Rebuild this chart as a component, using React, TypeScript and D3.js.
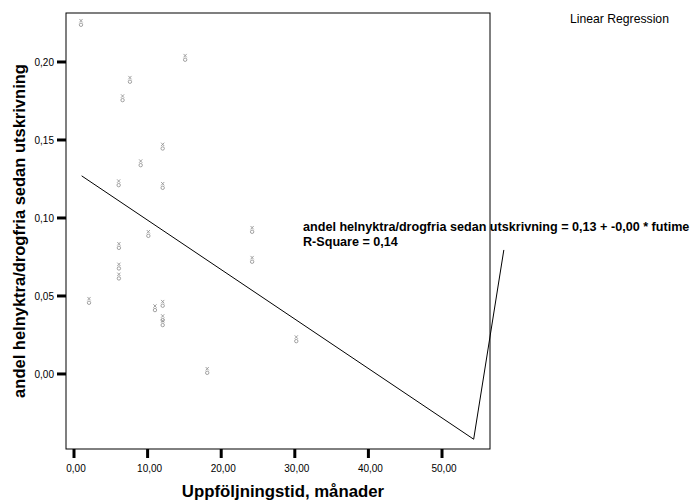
import React, { useEffect, useRef } from 'react';
import * as d3 from 'd3';

// follow-up time (months) and share sober/drug free for each patient
const followUp = [0.95, 15.1, 7.6, 6.6, 12.05, 9.06, 6.07, 12.05, 10.1, 6.1, 6.1, 6.1, 2.04, 11.0, 12.05, 12.05, 12.05, 18.1, 24.2, 30.2, 24.2];
const share = [0.225, 0.2026, 0.1885, 0.1767, 0.1457, 0.135, 0.1222, 0.1205, 0.0897, 0.082, 0.0688, 0.0624, 0.0468, 0.0421, 0.0449, 0.0357, 0.0325, 0.0019, 0.0731, 0.0222, 0.0923];

// fitted line: intercept, slope, and the x range it is drawn over
const intercept = 0.1303;
const slope = -0.00317;
const fitRange = [1.04, 54.3];
// the stray segment at the end of the fit line
const fitTail = [58.4, 0.0795];

const xTicks = [0, 10, 20, 30, 40, 50];
const yTicks = [0, 0.05, 0.1, 0.15, 0.2];

const xTitle = 'Uppföljningstid, månader';
const yTitle = 'andel helnyktra/drogfria sedan utskrivning';
const equation = 'andel helnyktra/drogfria sedan utskrivning = 0,13 + -0,00 * futime';
const rSquare = 'R-Square = 0,14';
const legendText = 'Linear Regression';

const fmt = (v: number) => v.toFixed(2).replace('.', ',');

const App = () => {
  const ref = useRef<SVGSVGElement>(null);

  useEffect(() => {
    var w = 693;
    var h = 502;
    var left = 66, right = 490, top = 13, bottom = 449;

    var svg = d3.select(ref.current);
    svg.selectAll('*').remove();

    var x = d3.scaleLinear().domain([-1.087, 56.52]).range([left, right]);
    var y = d3.scaleLinear().domain([-0.0481, 0.2314]).range([bottom, top]);

    var font = 'Arial, "Liberation Sans", sans-serif';

    // frame
    svg.append('rect')
      .attr('x', left).attr('y', top)
      .attr('width', right - left).attr('height', bottom - top)
      .attr('fill', 'none').attr('stroke', '#000').attr('stroke-width', 1);

    // x ticks
    var xg = svg.append('g');
    xg.selectAll('line').data(xTicks).enter().append('line')
      .attr('x1', d => x(d)).attr('x2', d => x(d))
      .attr('y1', bottom).attr('y2', bottom + 9)
      .attr('stroke', '#000').attr('stroke-width', 3);
    xg.selectAll('text').data(xTicks).enter().append('text')
      .attr('x', d => x(d) + 2).attr('y', bottom + 23)
      .attr('text-anchor', 'middle')
      .attr('font-family', font).attr('font-size', 10)
      .text(d => fmt(d));

    // y ticks
    var yg = svg.append('g');
    yg.selectAll('line').data(yTicks).enter().append('line')
      .attr('x1', left - 9).attr('x2', left)
      .attr('y1', d => y(d)).attr('y2', d => y(d))
      .attr('stroke', '#000').attr('stroke-width', 3);
    yg.selectAll('text').data(yTicks).enter().append('text')
      .attr('x', left - 12).attr('y', d => y(d) + 4)
      .attr('text-anchor', 'end')
      .attr('font-family', font).attr('font-size', 10)
      .text(d => fmt(d));

    // axis titles
    svg.append('text')
      .attr('x', 283).attr('y', 497)
      .attr('text-anchor', 'middle')
      .attr('font-family', font).attr('font-size', 16.8).attr('font-weight', 'bold')
      .text(xTitle);
    svg.append('text')
      .attr('transform', 'translate(25,231) rotate(-90)')
      .attr('text-anchor', 'middle')
      .attr('font-family', font).attr('font-size', 16.5).attr('font-weight', 'bold')
      .text(yTitle);

    // regression line
    var fit = fitRange.map(v => [v, intercept + slope * v]);
    fit.push(fitTail);
    svg.append('path')
      .attr('d', d3.line().x(d => x(d[0])).y(d => y(d[1]))(fit as [number, number][]))
      .attr('fill', 'none').attr('stroke', '#000').attr('stroke-width', 1);

    // points (small grey glyphs)
    var pts = svg.append('g').attr('stroke', '#8a8a8a').attr('fill', 'none').attr('stroke-width', 0.8);
    followUp.forEach((fx, i) => {
      var cx = x(fx), cy = y(share[i]);
      var g = pts.append('g').attr('transform', 'translate(' + cx + ',' + cy + ')');
      g.append('path').attr('d', 'M-1.6,-4 L1.6,-0.6 M1.6,-4 L-1.6,-0.6');
      g.append('circle').attr('cx', 0).attr('cy', 1.8).attr('r', 1.7);
    });

    // equation labels
    svg.append('text')
      .attr('x', 303).attr('y', 231)
      .attr('font-family', font).attr('font-size', 12.6).attr('font-weight', 'bold')
      .text(equation);
    svg.append('text')
      .attr('x', 303).attr('y', 246)
      .attr('font-family', font).attr('font-size', 12.6).attr('font-weight', 'bold')
      .text(rSquare);

    svg.append('text')
      .attr('x', 570).attr('y', 23)
      .attr('font-family', font).attr('font-size', 12.2)
      .text(legendText);

    svg.attr('width', w).attr('height', h);
  }, []);

  return (
    <svg ref={ref} width={693} height={502}
      style={{ position: 'absolute', left: 0, top: 0, background: '#fff' }} />
  );
};

export default App;
